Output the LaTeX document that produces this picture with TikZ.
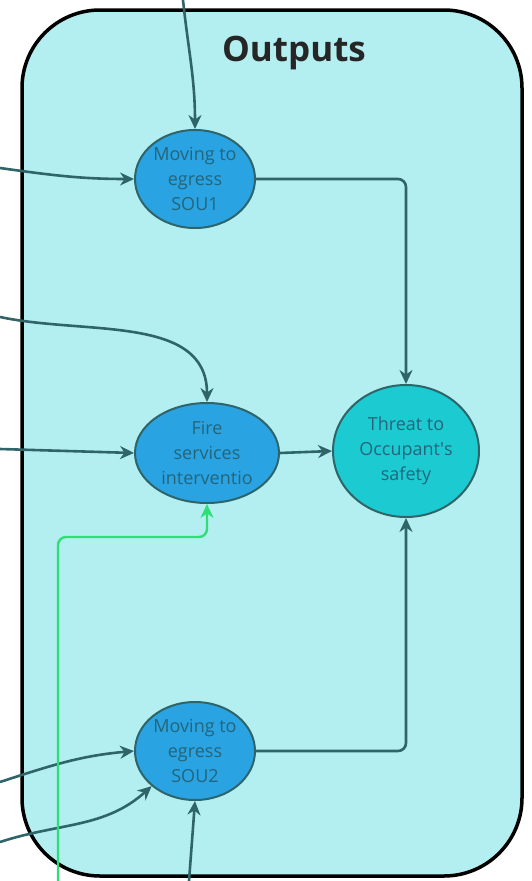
\documentclass[tikz,border=0pt]{standalone}
\usepackage{fontspec}
\setmainfont{Open Sans}
\usetikzlibrary{arrows.meta,shapes.geometric}

\definecolor{boxfill}{HTML}{B3EFF1}
\definecolor{nodeblue}{HTML}{2AA3E3}
\definecolor{nodecyan}{HTML}{1CCBD2}
\definecolor{edgeteal}{HTML}{2F6468}
\definecolor{txtteal}{HTML}{24657A}
\definecolor{flowgreen}{HTML}{2EDF78}

\begin{document}
\begin{tikzpicture}[x=1pt,y=1pt,
    state/.style={ellipse, draw=edgeteal, line width=2pt, fill=nodeblue, inner sep=0pt,
      minimum width=120pt, minimum height=98pt, align=center, text=txtteal,
      font=\fontsize{18}{25}\selectfont},
    edge/.style={draw=edgeteal, line width=2.6pt, -{Stealth[length=14pt,width=13pt]}},
    greenedge/.style={draw=flowgreen, line width=2.4pt, -{Stealth[length=14pt,width=13pt]}}]
  \useasboundingbox (0,0) rectangle (531,-881);

  % Outputs box
  \draw[line width=3.5pt, fill=boxfill, rounded corners=78pt] (22,-10) rectangle (522,-876);
  \node[font=\fontsize{35}{40}\selectfont\bfseries, text=black!85] (title) at (294,-53) {Outputs};

  % Nodes
  \node[state] (sou1) at (195,-179) {Moving to\\egress\\SOU1};
  \node[state, minimum width=144pt, minimum height=100pt] (fire) at (207,-453) {Fire\\services\\interventio};
  \node[state, fill=nodecyan, minimum width=146pt, minimum height=132pt] (threat) at (406,-451) {Threat to\\Occupant\textquotesingle s\\safety};
  \node[state] (sou2) at (195,-751) {Moving to\\egress\\SOU2};

  % Free ends
  \coordinate (inTop) at (183,0);
  \coordinate (inA) at (0,-168);
  \coordinate (inB) at (0,-317);
  \coordinate (inC) at (0,-449);
  \coordinate (inD) at (0,-782);
  \coordinate (inE) at (0,-842);
  \coordinate (inF) at (189,-881);
  \coordinate (inG) at (58,-881);

  % Inputs
  \draw[edge] (inTop) to[out=-84,in=90] (sou1.north);
  \draw[edge] (inA) to[out=-8,in=180] (sou1.west);
  \draw[edge] (inB) to[out=-12,in=90] (fire.north);
  \draw[edge] (inC) -- (fire.west);
  \draw[edge] (inD) to[out=18,in=185] (sou2.west);
  \draw[edge] (inE) to[out=18,in=222] (sou2.219);
  \draw[edge] (inF) -- (sou2.south);
  \draw[greenedge, rounded corners=8pt] (inG) -- (58,-537) -- (207,-537) -- (fire.south);

  % To threat
  \draw[edge, rounded corners=8pt] (sou1.east) -| (threat.north);
  \draw[edge] (fire.east) -- (threat.west);
  \draw[edge, rounded corners=8pt] (sou2.east) -| (threat.south);
\end{tikzpicture}
\end{document}
